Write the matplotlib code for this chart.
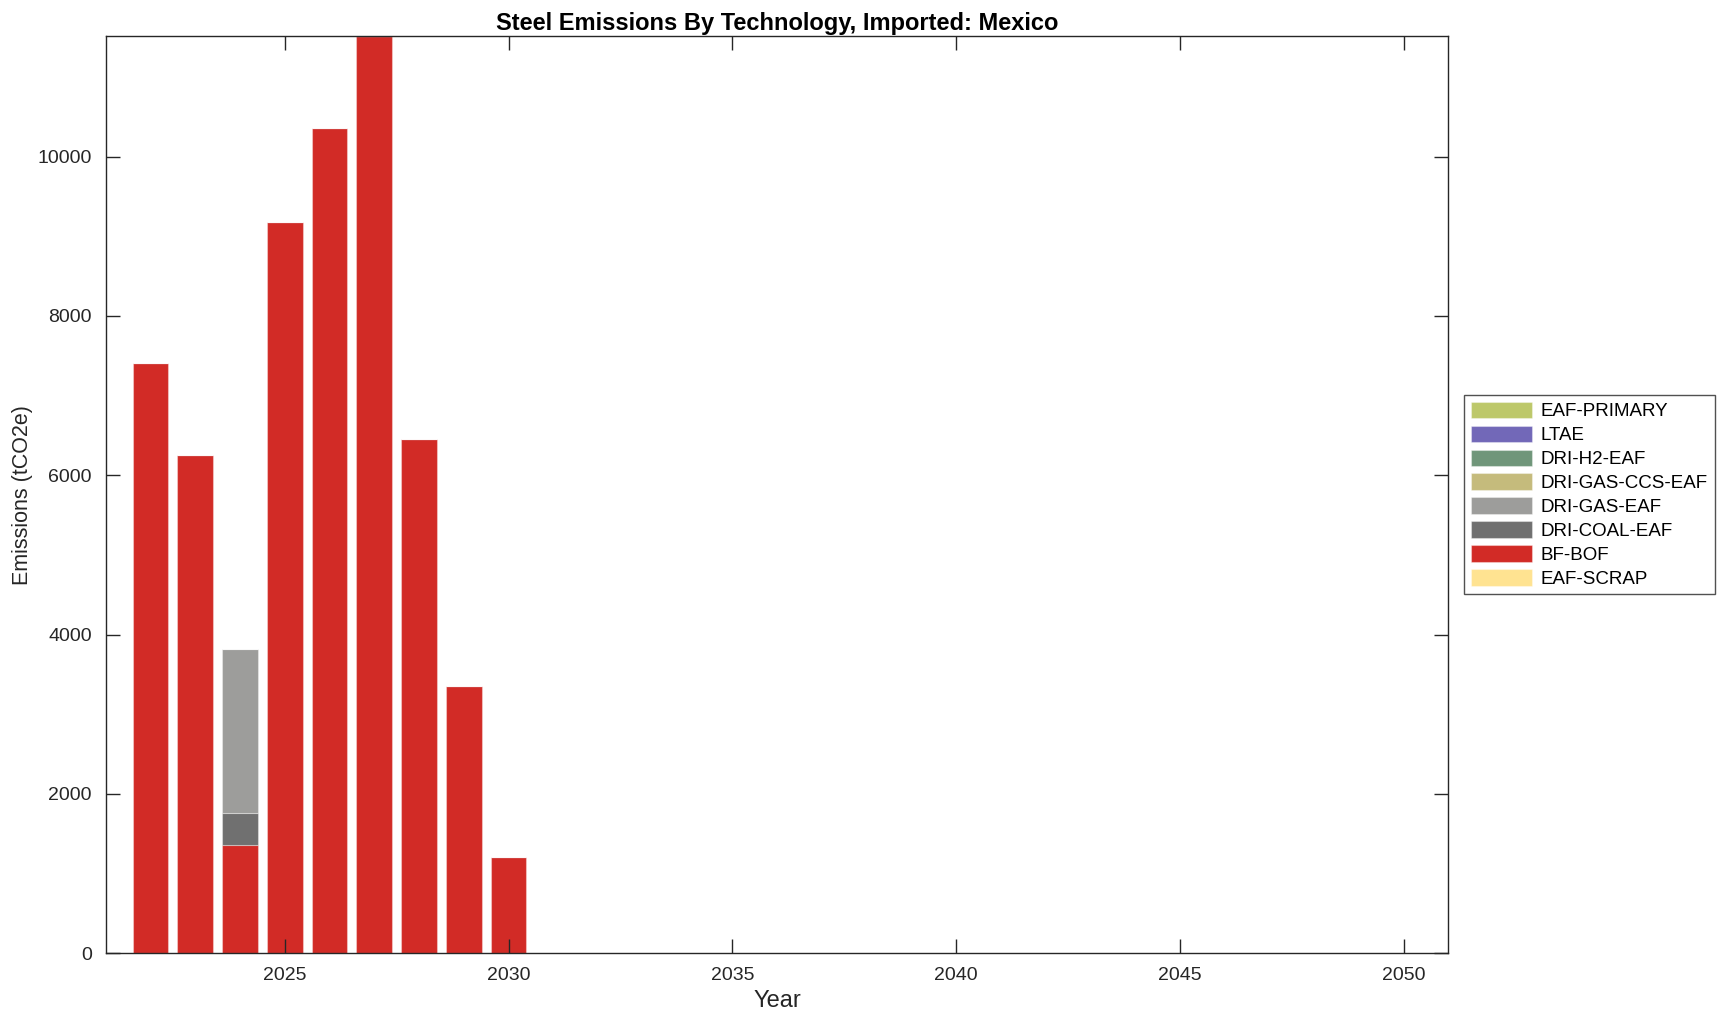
import numpy as np
import matplotlib.pyplot as plt

plt.rcParams['font.family'] = ['Liberation Sans', 'DejaVu Sans']

# Datos (tCO2e por tecnologia y año)
years = [2022, 2023, 2024, 2025, 2026, 2027, 2028, 2029, 2030]
eaf_scrap = [0, 0, 0, 0, 0, 0, 0, 0, 0]
bf_bof = [7410, 6260, 1359, 9177, 10360, 11514, 6455, 3352, 1210]
dri_coal_eaf = [0, 0, 398, 0, 0, 0, 0, 0, 0]
dri_gas_eaf = [0, 0, 2059, 0, 0, 0, 0, 0, 0]
dri_gas_ccs_eaf = [0, 0, 0, 0, 0, 0, 0, 0, 0]
dri_h2_eaf = [0, 0, 0, 0, 0, 0, 0, 0, 0]
ltae = [0, 0, 0, 0, 0, 0, 0, 0, 0]
eaf_primary = [0, 0, 0, 0, 0, 0, 0, 0, 0]

# Orden de apilado: de abajo hacia arriba
series = [
    ('EAF-SCRAP', eaf_scrap, '#FFE391'),
    ('BF-BOF', bf_bof, '#D22B26'),
    ('DRI-COAL-EAF', dri_coal_eaf, '#707070'),
    ('DRI-GAS-EAF', dri_gas_eaf, '#9D9D9B'),
    ('DRI-GAS-CCS-EAF', dri_gas_ccs_eaf, '#C5BB7C'),
    ('DRI-H2-EAF', dri_h2_eaf, '#70967A'),
    ('LTAE', ltae, '#7268B8'),
    ('EAF-PRIMARY', eaf_primary, '#BDC86A'),
]

fig = plt.figure(figsize=(17.25, 10.21), dpi=100)
ax = fig.add_axes([0.0613, 0.0663, 0.7783, 0.8984])

bottom = np.zeros(len(years))
handles = []
for name, vals, color in series:
    b = ax.bar(years, vals, width=0.8, bottom=bottom, color=color,
               edgecolor=(1, 1, 1, 0.35), linewidth=0.8, label=name)
    handles.append(b)
    bottom += np.array(vals)

ax.set_xlim(2021, 2051)
ax.set_ylim(0, 11514)
ax.set_xticks([2025, 2030, 2035, 2040, 2045, 2050])
ax.set_yticks([0, 2000, 4000, 6000, 8000, 10000])
ax.tick_params(direction='in', length=10, width=1, labelsize=14,
               top=True, right=True, colors='#262626', pad=10)
for s in ax.spines.values():
    s.set_color('#262626')
    s.set_linewidth(1)

ax.set_title('Steel Emissions By Technology, Imported: Mexico',
             fontsize=17, fontweight='bold', pad=4)
ax.set_xlabel('Year', fontsize=17, color='#262626', labelpad=4)
ax.set_ylabel('Emissions (tCO2e)', fontsize=15.5, color='#262626')
ax.yaxis.set_label_coords(-0.0545, 0.5)

leg = ax.legend(handles[::-1], [s[0] for s in series[::-1]],
                loc='upper left', bbox_to_anchor=(0.8487, 0.6131),
                bbox_transform=fig.transFigure, borderaxespad=0,
                fontsize=13.5, frameon=True, fancybox=False,
                handlelength=3.3, handleheight=0.95, labelspacing=0.29,
                handletextpad=0.45, borderpad=0.35)
leg.get_frame().set_edgecolor('#262626')
leg.get_frame().set_linewidth(1)

fig.savefig('out.png', dpi=100)
